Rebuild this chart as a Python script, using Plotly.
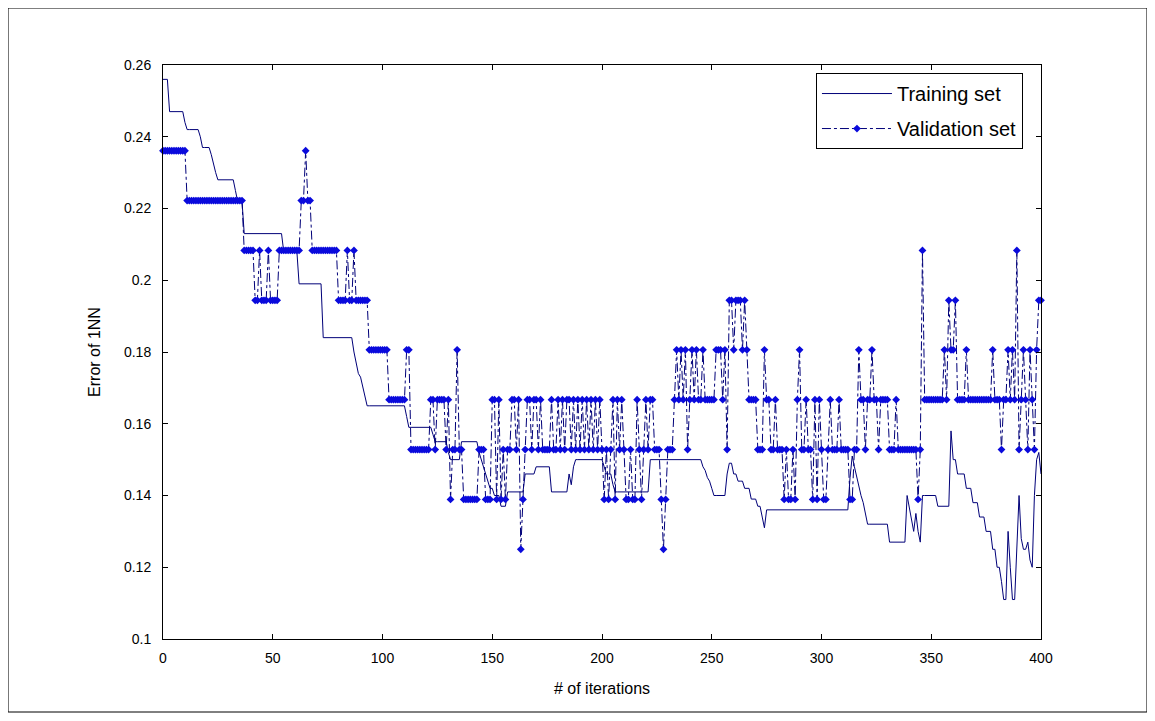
import plotly.graph_objects as go

# x: iteration index 0..400
iterations = list(range(0, 401))

# Training-set error of 1NN
training = [
    0.256, 0.256, 0.256, 0.247, 0.247, 0.247, 0.247, 0.247, 0.247, 0.247,  # 0
    0.244, 0.242, 0.242, 0.242, 0.242, 0.242, 0.242, 0.240, 0.237, 0.237,  # 10
    0.237, 0.237, 0.235, 0.232, 0.230, 0.228, 0.228, 0.228, 0.228, 0.228,  # 20
    0.228, 0.228, 0.228, 0.225, 0.222, 0.222, 0.222, 0.213, 0.213, 0.213,  # 30
    0.213, 0.213, 0.213, 0.213, 0.213, 0.213, 0.213, 0.213, 0.213, 0.213,  # 40
    0.213, 0.213, 0.213, 0.213, 0.213, 0.208, 0.208, 0.208, 0.208, 0.208,  # 50
    0.208, 0.208, 0.199, 0.199, 0.199, 0.199, 0.199, 0.199, 0.199, 0.199,  # 60
    0.199, 0.199, 0.199, 0.184, 0.184, 0.184, 0.184, 0.184, 0.184, 0.184,  # 70
    0.184, 0.184, 0.184, 0.184, 0.184, 0.184, 0.184, 0.180, 0.177, 0.174,  # 80
    0.173, 0.170, 0.167, 0.165, 0.165, 0.165, 0.165, 0.165, 0.165, 0.165,  # 90
    0.165, 0.165, 0.165, 0.165, 0.165, 0.165, 0.165, 0.165, 0.165, 0.165,  # 100
    0.165, 0.162, 0.159, 0.159, 0.159, 0.159, 0.159, 0.159, 0.159, 0.159,  # 110
    0.159, 0.159, 0.159, 0.157, 0.155, 0.155, 0.155, 0.155, 0.155, 0.155,  # 120
    0.152, 0.150, 0.150, 0.150, 0.150, 0.150, 0.155, 0.155, 0.155, 0.155,  # 130
    0.155, 0.155, 0.155, 0.155, 0.152, 0.150, 0.148, 0.146, 0.144, 0.142,  # 140
    0.142, 0.140, 0.140, 0.140, 0.137, 0.137, 0.137, 0.141, 0.141, 0.141,  # 150
    0.141, 0.141, 0.141, 0.141, 0.141, 0.146, 0.146, 0.146, 0.146, 0.146,  # 160
    0.148, 0.148, 0.148, 0.148, 0.148, 0.148, 0.148, 0.141, 0.141, 0.141,  # 170
    0.141, 0.141, 0.141, 0.141, 0.141, 0.146, 0.143, 0.148, 0.150, 0.150,  # 180
    0.150, 0.150, 0.150, 0.150, 0.150, 0.150, 0.150, 0.150, 0.150, 0.150,  # 190
    0.150, 0.148, 0.146, 0.146, 0.146, 0.143, 0.141, 0.141, 0.141, 0.141,  # 200
    0.141, 0.141, 0.141, 0.141, 0.141, 0.141, 0.141, 0.141, 0.141, 0.141,  # 210
    0.141, 0.141, 0.150, 0.150, 0.150, 0.150, 0.150, 0.150, 0.150, 0.150,  # 220
    0.150, 0.150, 0.150, 0.150, 0.150, 0.150, 0.150, 0.150, 0.150, 0.150,  # 230
    0.150, 0.150, 0.150, 0.150, 0.150, 0.150, 0.148, 0.147, 0.145, 0.144,  # 240
    0.142, 0.140, 0.140, 0.140, 0.140, 0.140, 0.140, 0.146, 0.149, 0.149,  # 250
    0.146, 0.146, 0.144, 0.144, 0.144, 0.142, 0.142, 0.142, 0.139, 0.139,  # 260
    0.139, 0.137, 0.137, 0.134, 0.131, 0.136, 0.136, 0.136, 0.136, 0.136,  # 270
    0.136, 0.136, 0.136, 0.136, 0.136, 0.136, 0.136, 0.136, 0.136, 0.136,  # 280
    0.136, 0.136, 0.136, 0.136, 0.136, 0.136, 0.136, 0.136, 0.136, 0.136,  # 290
    0.136, 0.136, 0.136, 0.136, 0.136, 0.136, 0.136, 0.136, 0.136, 0.136,  # 300
    0.136, 0.136, 0.136, 0.145, 0.151, 0.148, 0.145, 0.143, 0.140, 0.138,  # 310
    0.135, 0.132, 0.132, 0.132, 0.132, 0.132, 0.132, 0.132, 0.132, 0.132,  # 320
    0.132, 0.127, 0.127, 0.127, 0.127, 0.127, 0.127, 0.127, 0.127, 0.140,  # 330
    0.137, 0.134, 0.130, 0.135, 0.130, 0.127, 0.140, 0.140, 0.140, 0.140,  # 340
    0.140, 0.140, 0.140, 0.137, 0.137, 0.137, 0.137, 0.137, 0.137, 0.158,  # 350
    0.150, 0.150, 0.146, 0.146, 0.146, 0.146, 0.142, 0.142, 0.142, 0.138,  # 360
    0.138, 0.138, 0.134, 0.134, 0.134, 0.130, 0.130, 0.130, 0.125, 0.125,  # 370
    0.120, 0.120, 0.116, 0.111, 0.111, 0.130, 0.120, 0.111, 0.111, 0.125,  # 380
    0.140, 0.128, 0.125, 0.125, 0.127, 0.122, 0.120, 0.140, 0.150, 0.152,  # 390
    0.146,                                                                  # 400
]

# Validation-set error of 1NN
validation = [
    0.2361, 0.2361, 0.2361, 0.2361, 0.2361, 0.2361, 0.2361, 0.2361, 0.2361, 0.2361,  # 0
    0.2361, 0.2222, 0.2222, 0.2222, 0.2222, 0.2222, 0.2222, 0.2222, 0.2222, 0.2222,  # 10
    0.2222, 0.2222, 0.2222, 0.2222, 0.2222, 0.2222, 0.2222, 0.2222, 0.2222, 0.2222,  # 20
    0.2222, 0.2222, 0.2222, 0.2222, 0.2222, 0.2222, 0.2222, 0.2083, 0.2083, 0.2083,  # 30
    0.2083, 0.2083, 0.1944, 0.1944, 0.2083, 0.1944, 0.1944, 0.1944, 0.2083, 0.1944,  # 40
    0.1944, 0.1944, 0.1944, 0.2083, 0.2083, 0.2083, 0.2083, 0.2083, 0.2083, 0.2083,  # 50
    0.2083, 0.2083, 0.2083, 0.2222, 0.2222, 0.2361, 0.2222, 0.2222, 0.2083, 0.2083,  # 60
    0.2083, 0.2083, 0.2083, 0.2083, 0.2083, 0.2083, 0.2083, 0.2083, 0.2083, 0.2083,  # 70
    0.1944, 0.1944, 0.1944, 0.1944, 0.2083, 0.1944, 0.1944, 0.2083, 0.1944, 0.1944,  # 80
    0.1944, 0.1944, 0.1944, 0.1944, 0.1806, 0.1806, 0.1806, 0.1806, 0.1806, 0.1806,  # 90
    0.1806, 0.1806, 0.1806, 0.1667, 0.1667, 0.1667, 0.1667, 0.1667, 0.1667, 0.1667,  # 100
    0.1667, 0.1806, 0.1806, 0.1528, 0.1528, 0.1528, 0.1528, 0.1528, 0.1528, 0.1528,  # 110
    0.1528, 0.1528, 0.1667, 0.1667, 0.1528, 0.1667, 0.1667, 0.1667, 0.1667, 0.1528,  # 120
    0.1667, 0.1389, 0.1528, 0.1528, 0.1806, 0.1528, 0.1528, 0.1389, 0.1389, 0.1389,  # 130
    0.1389, 0.1389, 0.1389, 0.1389, 0.1528, 0.1528, 0.1528, 0.1389, 0.1389, 0.1389,  # 140
    0.1667, 0.1667, 0.1389, 0.1667, 0.1389, 0.1528, 0.1389, 0.1528, 0.1528, 0.1667,  # 150
    0.1667, 0.1528, 0.1667, 0.1250, 0.1389, 0.1528, 0.1667, 0.1667, 0.1528, 0.1667,  # 160
    0.1667, 0.1528, 0.1667, 0.1528, 0.1528, 0.1528, 0.1528, 0.1667, 0.1528, 0.1528,  # 170
    0.1667, 0.1528, 0.1667, 0.1528, 0.1667, 0.1667, 0.1528, 0.1667, 0.1528, 0.1667,  # 180
    0.1528, 0.1667, 0.1528, 0.1667, 0.1528, 0.1667, 0.1528, 0.1667, 0.1528, 0.1667,  # 190
    0.1528, 0.1389, 0.1528, 0.1389, 0.1528, 0.1667, 0.1389, 0.1667, 0.1528, 0.1667,  # 200
    0.1528, 0.1389, 0.1389, 0.1528, 0.1389, 0.1389, 0.1667, 0.1528, 0.1389, 0.1528,  # 210
    0.1667, 0.1528, 0.1667, 0.1667, 0.1528, 0.1528, 0.1528, 0.1389, 0.1250, 0.1389,  # 220
    0.1528, 0.1528, 0.1528, 0.1667, 0.1806, 0.1667, 0.1806, 0.1667, 0.1806, 0.1528,  # 230
    0.1667, 0.1806, 0.1667, 0.1806, 0.1667, 0.1667, 0.1806, 0.1667, 0.1667, 0.1667,  # 240
    0.1667, 0.1667, 0.1806, 0.1806, 0.1806, 0.1667, 0.1806, 0.1528, 0.1944, 0.1944,  # 250
    0.1806, 0.1944, 0.1944, 0.1944, 0.1806, 0.1944, 0.1806, 0.1667, 0.1667, 0.1667,  # 260
    0.1667, 0.1528, 0.1528, 0.1528, 0.1806, 0.1667, 0.1667, 0.1528, 0.1528, 0.1667,  # 270
    0.1528, 0.1528, 0.1528, 0.1389, 0.1528, 0.1389, 0.1389, 0.1528, 0.1389, 0.1667,  # 280
    0.1806, 0.1528, 0.1528, 0.1667, 0.1528, 0.1528, 0.1389, 0.1667, 0.1389, 0.1667,  # 290
    0.1528, 0.1389, 0.1389, 0.1528, 0.1667, 0.1528, 0.1528, 0.1528, 0.1667, 0.1528,  # 300
    0.1528, 0.1528, 0.1528, 0.1389, 0.1389, 0.1528, 0.1528, 0.1806, 0.1667, 0.1667,  # 310
    0.1528, 0.1667, 0.1667, 0.1806, 0.1667, 0.1667, 0.1528, 0.1667, 0.1667, 0.1667,  # 320
    0.1667, 0.1528, 0.1528, 0.1528, 0.1667, 0.1528, 0.1528, 0.1528, 0.1528, 0.1528,  # 330
    0.1528, 0.1528, 0.1528, 0.1528, 0.1389, 0.1528, 0.2083, 0.1667, 0.1667, 0.1667,  # 340
    0.1667, 0.1667, 0.1667, 0.1667, 0.1667, 0.1667, 0.1806, 0.1667, 0.1944, 0.1806,  # 350
    0.1806, 0.1944, 0.1667, 0.1667, 0.1667, 0.1667, 0.1806, 0.1667, 0.1667, 0.1667,  # 360
    0.1667, 0.1667, 0.1667, 0.1667, 0.1667, 0.1667, 0.1667, 0.1667, 0.1806, 0.1667,  # 370
    0.1667, 0.1667, 0.1528, 0.1667, 0.1667, 0.1806, 0.1667, 0.1806, 0.1667, 0.2083,  # 380
    0.1528, 0.1667, 0.1806, 0.1667, 0.1528, 0.1806, 0.1667, 0.1528, 0.1806, 0.1944,  # 390
    0.1944,                                                                            # 400
]

x_ticks = [0, 50, 100, 150, 200, 250, 300, 350, 400]
y_ticks = [0.1, 0.12, 0.14, 0.16, 0.18, 0.2, 0.22, 0.24, 0.26]
y_tick_labels = ["0.1", "0.12", "0.14", "0.16", "0.18", "0.2", "0.22", "0.24", "0.26"]

FONT = "Liberation Sans, Arial, Helvetica, sans-serif"
LINE_COL = "#000078"
MARK_COL = "#0A0ADC"

fig = go.Figure()
fig.add_trace(go.Scatter(
    x=iterations, y=training, name="Training set", mode="lines",
    line=dict(color=LINE_COL, width=1), legendgroup="train",
))
fig.add_trace(go.Scatter(
    x=iterations, y=validation, name="Validation set", mode="lines+markers",
    line=dict(color=LINE_COL, width=1, dash="dashdot"),
    marker=dict(symbol="diamond", size=6, color=MARK_COL, line=dict(width=0)),
    cliponaxis=False, legendgroup="valid",
))

axis_common = dict(
    showline=True, linecolor="black", linewidth=1, mirror="ticks",
    ticks="inside", ticklen=5, tickcolor="black", tickwidth=1,
    showgrid=False, zeroline=False,
    tickfont=dict(family=FONT, size=14, color="black"),
)

# page body has an 8px margin, so margins are reduced by 8px on left/top
fig.update_layout(
    width=1155, height=721,
    margin=dict(l=155, r=122, t=57, b=90),
    paper_bgcolor="white", plot_bgcolor="white",
    font=dict(family=FONT, size=14, color="black"),
    xaxis=dict(range=[0, 400], tickvals=x_ticks, ticklabelstandoff=6,
               title=dict(text="# of iterations", font=dict(family=FONT, size=16), standoff=18),
               **axis_common),
    yaxis=dict(range=[0.1, 0.26], tickvals=y_ticks, ticktext=y_tick_labels, ticklabelstandoff=8,
               title=dict(text="Error of 1NN", font=dict(family=FONT, size=16), standoff=19),
               **axis_common),
    legend=dict(x=0.7437, y=0.986, xanchor="left", yanchor="top",
                bgcolor="white", bordercolor="black", borderwidth=1,
                font=dict(family=FONT, size=20, color="black"),
                itemwidth=70, tracegroupgap=6, traceorder="grouped"),
    showlegend=True,
    shapes=[dict(type="rect", xref="paper", yref="paper",
                 x0=-0.1765, x1=1.1207, y0=-0.1272, y1=1.0993,
                 line=dict(color="black", width=1), fillcolor="rgba(0,0,0,0)", layer="below")],
)

fig.write_html("out.html")
